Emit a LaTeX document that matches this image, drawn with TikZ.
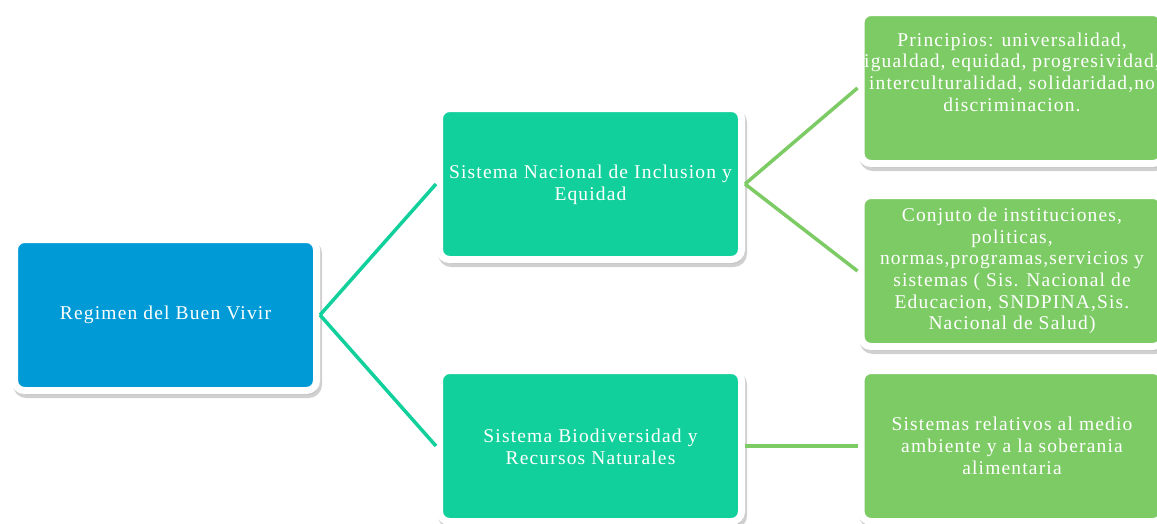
\documentclass[tikz,border=0pt]{standalone}
\usepackage{fontspec}
\setmainfont{Liberation Serif}[LetterSpace=6]
\definecolor{rootblue}{HTML}{009BD6}
\definecolor{teal}{HTML}{12D09B}
\definecolor{leaf}{HTML}{7DCB65}
\definecolor{shade}{HTML}{B0B0B0}
\tikzset{
  box/.style={draw=white, line width=7pt, rounded corners=10pt, minimum width=302pt, minimum height=151pt,
    inner sep=0pt,
    preaction={draw=shade, fill=shade, opacity=0.6, transform canvas={shift={(2pt,-4pt)}}}},
  rootbox/.style={box, fill=rootblue},
  midbox/.style={box, fill=teal},
  leafbox/.style={box, fill=leaf},
  label/.style={text=white, align=center, font=\fontsize{19.5}{21.7}\selectfont, inner sep=0pt},
  tealline/.style={draw=teal, line width=3.5pt},
  leafline/.style={draw=leaf, line width=3.5pt},
}
\begin{document}
\begin{tikzpicture}[x=1pt,y=-1pt]
\useasboundingbox (0,0) rectangle (1157,523);
\node[rootbox] (root) at (165.5,315) {};
\node[midbox] (a) at (590.5,184) {};
\node[midbox] (b) at (590.5,446) {};
\node[leafbox] (c1) at (1012,88) {};
\node[leafbox] (c2) at (1012,271) {};
\node[leafbox] (c3) at (1012,446) {};
\node[label] (troot) at (root.center) {Regimen del Buen Vivir};
\node[label] (ta) at (590.5,185) {Sistema Nacional de Inclusion y\\Equidad};
\node[label] (tb) at (590.5,447) {Sistema Biodiversidad y\\Recursos Naturales};
\node[label] (tc1) at (1012,72) {Principios: universalidad,\\igualdad, equidad, progresividad,\\interculturalidad, solidaridad,no\\discriminacion.};
\node[label] (tc2) at (c2.center) {Conjuto de instituciones,\\politicas,\\normas,programas,servicios y\\sistemas ( Sis. Nacional de\\Educacion, SNDPINA,Sis.\\Nacional de Salud)};
\node[label] (tc3) at (c3.center) {Sistemas relativos al medio\\ambiente y a la soberania\\alimentaria};
\path[tealline] (root.east) -- (a.west);
\path[tealline] (root.east) -- (b.west);
\path[leafline] (a.east) -- (c1.west);
\path[leafline] (a.east) -- (c2.west);
\path[leafline] (b.east) -- (c3.west);
\end{tikzpicture}
\end{document}
